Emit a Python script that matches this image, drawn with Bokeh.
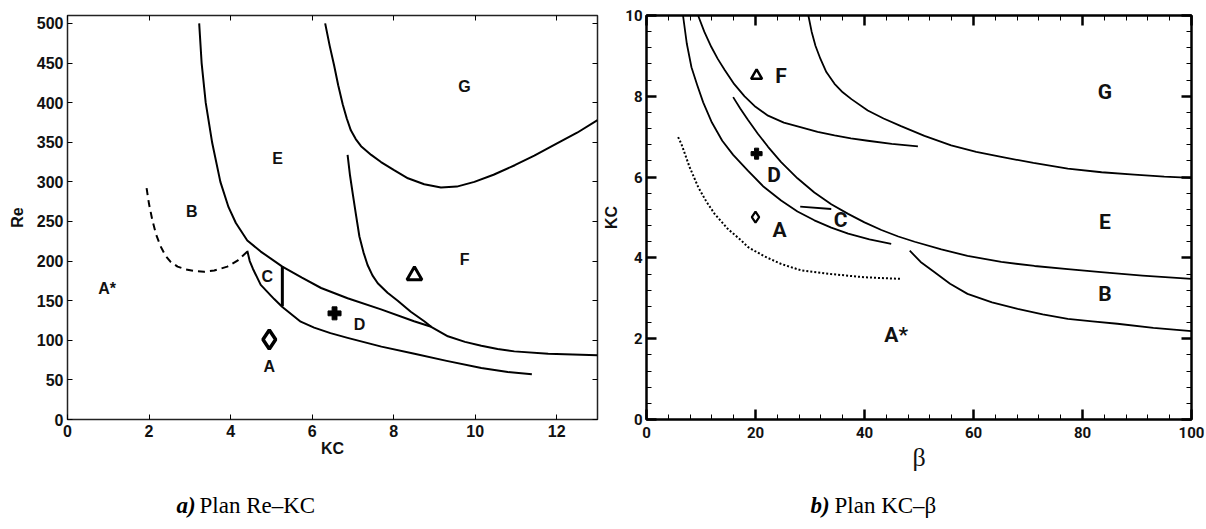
import numpy as np
from bokeh.plotting import figure
from bokeh.layouts import row, column
from bokeh.models import LinearAxis, Label, ColumnDataSource, Range1d, FixedTicker
from bokeh.core.properties import value
from bokeh.embed import file_html
from bokeh.resources import INLINE

# ---------------- Panel a) Re–KC ----------------
kc_ticks = [0, 2, 4, 6, 8, 10, 12]
re_ticks = [0, 50, 100, 150, 200, 250, 300, 350, 400, 450, 500]

# boundary E (upper curve, continuing to lower right)
a_e_kc = [3.23, 3.29, 3.39, 3.55, 3.75, 3.95, 4.13, 4.41, 4.74, 5.27, 5.75, 6.22, 6.87, 7.69, 8.5, 8.92, 9.33, 9.75, 10.15, 10.55, 10.96, 11.79, 13.0]
a_e_re = [500, 450, 400, 349, 300, 268, 248, 226, 212, 193, 179, 166, 153, 139, 124, 117, 105, 98, 93, 89, 86, 83, 81]
# lower boundary of C / D
a_d_kc = [4.41, 4.47, 4.55, 4.74, 5.07, 5.27, 5.72, 6.05, 6.45, 6.87, 7.7, 8.51, 9.3, 10.15, 10.8, 11.39]
a_d_re = [213, 200, 190, 170, 152, 142, 123.5, 116, 109, 103, 92, 83, 74, 65, 60, 57]
# dashed boundary B / A*
a_b_kc = [1.94, 2.0, 2.08, 2.17, 2.28, 2.4, 2.53, 2.7, 2.9, 3.1, 3.35, 3.6, 3.92, 4.18, 4.41]
a_b_re = [292, 272, 252, 234, 219, 207, 199, 193, 189.5, 187.5, 186.5, 188, 193, 201, 212]
# vertical C / D line
a_c_kc = [5.27, 5.27]
a_c_re = [193, 143]
# F boundary
a_f_kc = [6.87, 6.93, 7.0, 7.08, 7.16, 7.26, 7.36, 7.48, 7.61, 7.85, 8.1, 8.42, 8.75, 8.92]
a_f_re = [334, 308, 284, 257, 231, 211, 195, 182, 172, 160, 150, 136, 124, 117]
# G boundary
a_g_kc = [6.32, 6.43, 6.54, 6.64, 6.75, 6.85, 6.95, 7.07, 7.2, 7.45, 7.69, 8.0, 8.35, 8.75, 9.16, 9.55, 9.98, 10.45, 10.97, 11.45, 11.95, 12.5, 13.0]
a_g_re = [500, 472, 447, 422, 398, 380, 365, 354, 345, 334, 325, 315, 304.5, 297, 293, 294, 300, 309, 321, 333, 347, 362, 378]

a_lab_txt = ["G", "E", "B", "A*", "C", "A", "F", "D"]
a_lab_kc = [9.74, 5.15, 3.05, 0.97, 4.9, 4.95, 9.74, 7.16]
a_lab_re = [421, 329, 263, 165, 180, 67, 202, 120]

a_pt_A = (4.95, 101)
a_pt_D = (6.55, 134)
a_pt_F = (8.51, 182)

# ---------------- Panel b) KC–β ----------------
beta_ticks = [0, 20, 40, 60, 80, 100]
kcb_ticks = [0, 2, 4, 6, 8, 10]

b_g_beta = [29.7, 30.3, 31.0, 31.9, 33.0, 34.5, 36.0, 37.6, 40.6, 43.5, 46.7, 51.0, 55.9, 60.5, 65.1, 71.0, 77.3, 83.5, 89.5, 95.0, 100]
b_g_kc = [10, 9.6, 9.25, 8.93, 8.6, 8.31, 8.1, 7.93, 7.65, 7.45, 7.26, 7.02, 6.785, 6.625, 6.5, 6.35, 6.21, 6.12, 6.06, 6.01, 5.98]
b_f_beta = [9.47, 10.6, 11.9, 13.1, 14.35, 16.1, 18.0, 20.0, 22.3, 25.2, 28.4, 31.4, 34.5, 37.5, 40.6, 45.0, 49.8]
b_f_kc = [10, 9.6, 9.22, 8.92, 8.65, 8.3, 8.0, 7.74, 7.52, 7.35, 7.23, 7.12, 7.03, 6.96, 6.9, 6.82, 6.76]
b_ad_beta = [6.7, 7.4, 8.25, 9.3, 10.4, 12.0, 13.9, 15.9, 18.6, 21.5, 24.7, 27.7, 30.8, 33.9, 37.0, 40.9, 44.9]
b_ad_kc = [10, 9.3, 8.72, 8.28, 7.85, 7.35, 6.9, 6.55, 6.16, 5.76, 5.42, 5.15, 4.93, 4.75, 4.6, 4.46, 4.35]
b_de_beta = [15.9, 17.2, 18.6, 20.4, 22.3, 24.7, 27.7, 30.8, 33.9, 37.0, 40.0, 43.1, 46.2, 49.2, 54.1, 58.9, 65.1, 71.2, 77.3, 83.4, 91.0, 100]
b_de_kc = [7.98, 7.7, 7.42, 7.08, 6.75, 6.37, 5.97, 5.62, 5.33, 5.09, 4.88, 4.69, 4.53, 4.4, 4.21, 4.05, 3.9, 3.8, 3.72, 3.65, 3.56, 3.48]
b_b_beta = [48.3, 50.3, 52.8, 55.7, 58.9, 63.4, 68.1, 72.7, 77.3, 81.8, 86.4, 93.0, 100]
b_b_kc = [4.18, 3.9, 3.65, 3.36, 3.11, 2.9, 2.74, 2.6, 2.49, 2.43, 2.37, 2.27, 2.19]
b_c_beta = [28.2, 33.9]
b_c_kc = [5.27, 5.21]
b_dot_beta = [5.8, 6.4, 7.9, 9.5, 11.0, 12.5, 14.9, 17.4, 18.6, 21.6, 24.7, 28.4, 33.9, 40.0, 46.7]
b_dot_kc = [6.99, 6.82, 6.25, 5.75, 5.39, 5.09, 4.72, 4.43, 4.27, 4.04, 3.85, 3.69, 3.6, 3.52, 3.48]

b_lab_txt = ["F", "G", "E", "B", "A*", "D", "A", "C"]
b_lab_beta = [24.7, 84.1, 84.1, 84.1, 45.8, 23.4, 24.4, 35.6]
b_lab_kc = [8.51, 8.1, 4.88, 3.11, 2.08, 6.04, 4.68, 4.93]

b_pt_F = (20.2, 8.51)
b_pt_D = (20.2, 6.58)
b_pt_A = (20.0, 5.01)

captions_bold = ["a)", "b)"]
captions_text = ["Plan Re–KC", "Plan KC–β"]

SANS = "Liberation Sans"
NARROW = "Roboto"
SERIF = "Liberation Serif"
INK = "#111111"


def mirror_axes(p, xt, yt, tick_in, tick_w, minor_x=None, minor_y=None, minor_in=0):
    top = LinearAxis(ticker=FixedTicker(ticks=xt, minor_ticks=minor_x or []))
    right = LinearAxis(ticker=FixedTicker(ticks=yt, minor_ticks=minor_y or []))
    for ax in (top, right):
        ax.major_label_text_font_size = "1px"
        ax.major_label_text_color = None
        ax.major_label_standoff = 0
        ax.axis_line_color = None
        ax.major_tick_in = tick_in
        ax.major_tick_out = 0
        ax.major_tick_line_width = tick_w
        ax.minor_tick_in = minor_in
        ax.minor_tick_out = 0
        if minor_in == 0:
            ax.minor_tick_line_color = None
    p.add_layout(top, "above")
    p.add_layout(right, "right")


# ---- figure a
p1 = figure(width=600, height=480, x_range=Range1d(0, 13), y_range=Range1d(0, 510),
            output_backend="svg", toolbar_location=None,
            min_border_left=67, min_border_right=3, min_border_top=15, min_border_bottom=47,
            x_axis_label="KC", y_axis_label="Re")
p1.grid.visible = False
p1.outline_line_color = "#222222"
p1.outline_line_width = 1.5
p1.xaxis.ticker = FixedTicker(ticks=kc_ticks)
p1.yaxis.ticker = FixedTicker(ticks=re_ticks)
for ax in (p1.xaxis[0], p1.yaxis[0]):
    ax.axis_line_color = None
    ax.major_tick_in = 5
    ax.major_tick_out = 0
    ax.minor_tick_line_color = None
    ax.major_label_text_font = SANS
    ax.major_label_text_font_style = "bold"
    ax.major_label_text_font_size = "16px"
    ax.major_label_text_color = INK
    ax.axis_label_text_font = SANS
    ax.axis_label_text_font_style = "bold"
    ax.axis_label_text_font_size = "16px"
    ax.axis_label_text_color = INK
p1.xaxis.major_label_standoff = 5
p1.xaxis.axis_label_standoff = 0
p1.yaxis.major_label_standoff = 4
p1.yaxis.axis_label_standoff = 8
mirror_axes(p1, kc_ticks, re_ticks, 5, 1)

for xs, ys in [(a_e_kc, a_e_re), (a_d_kc, a_d_re), (a_f_kc, a_f_re), (a_g_kc, a_g_re)]:
    p1.line(xs, ys, line_color="black", line_width=2, line_join="round")
p1.line(a_b_kc, a_b_re, line_color="black", line_width=2, line_dash="7 5")
p1.line(a_c_kc, a_c_re, line_color="black", line_width=3)

p1.scatter([a_pt_A[0]], [a_pt_A[1]], marker="diamond", size=19, line_width=3.5,
           line_color="black", fill_color="white")
p1.scatter([a_pt_D[0]], [a_pt_D[1]], marker="plus", size=13, line_width=1,
           line_color="black", fill_color="black")
p1.scatter([a_pt_F[0]], [a_pt_F[1]], marker="triangle", size=15, line_width=3,
           line_color="black", fill_color="white")

src_a = ColumnDataSource(dict(x=a_lab_kc, y=a_lab_re, t=a_lab_txt))
p1.text(x="x", y="y", text="t", source=src_a, text_align="center", text_baseline="middle",
        text_font=value(SANS), text_font_style="bold", text_font_size="16px", text_color=INK)

# ---- figure b
p2 = figure(width=606, height=480, x_range=Range1d(0, 100), y_range=Range1d(0, 10),
            output_backend="svg", toolbar_location=None,
            min_border_left=45, min_border_right=15, min_border_top=15, min_border_bottom=61,
            x_axis_label="β", y_axis_label="KC")
p2.grid.visible = False
p2.outline_line_color = "black"
p2.outline_line_width = 2.5
minor_b = [float(v) for v in np.arange(0, 101, 4)]
minor_k = [round(float(v), 2) for v in np.arange(0, 10.01, 0.4)]
p2.xaxis.ticker = FixedTicker(ticks=beta_ticks, minor_ticks=minor_b)
p2.yaxis.ticker = FixedTicker(ticks=kcb_ticks, minor_ticks=minor_k)
for ax in (p2.xaxis[0], p2.yaxis[0]):
    ax.axis_line_color = None
    ax.major_tick_in = 10
    ax.major_tick_out = 0
    ax.major_tick_line_width = 2.5
    ax.minor_tick_in = 5
    ax.minor_tick_out = 0
    ax.minor_tick_line_width = 1
    ax.major_label_text_font = NARROW
    ax.major_label_text_font_style = "bold"
    ax.major_label_text_font_size = "15px"
    ax.major_label_text_color = INK
p2.xaxis.major_label_standoff = 7
p2.yaxis.major_label_standoff = 4
p2.xaxis.axis_label_text_font = SERIF
p2.xaxis.axis_label_text_font_style = "normal"
p2.xaxis.axis_label_text_font_size = "26px"
p2.xaxis.axis_label_text_color = INK
p2.xaxis.axis_label_standoff = 2
p2.yaxis.axis_label_text_font = SANS
p2.yaxis.axis_label_text_font_style = "bold"
p2.yaxis.axis_label_text_font_size = "16px"
p2.yaxis.axis_label_text_color = INK
p2.yaxis.axis_label_standoff = 2
mirror_axes(p2, beta_ticks, kcb_ticks, 10, 2.5, minor_b, minor_k, 5)

for bx, by in [(b_g_beta, b_g_kc), (b_f_beta, b_f_kc), (b_ad_beta, b_ad_kc),
               (b_de_beta, b_de_kc), (b_b_beta, b_b_kc), (b_c_beta, b_c_kc)]:
    p2.line(bx, by, line_color="black", line_width=1.8, line_join="round")
p2.line(b_dot_beta, b_dot_kc, line_color="black", line_width=2, line_dash="2 2")

p2.scatter([b_pt_F[0]], [b_pt_F[1]], marker="triangle", size=11, line_width=2.5,
           line_color="black", fill_color="white")
p2.scatter([b_pt_D[0]], [b_pt_D[1]], marker="plus", size=11, line_width=1,
           line_color="black", fill_color="black")
p2.scatter([b_pt_A[0]], [b_pt_A[1]], marker="diamond", size=11, line_width=2.2,
           line_color="black", fill_color="white")

src_b = ColumnDataSource(dict(x=b_lab_beta, y=b_lab_kc, t=b_lab_txt))
p2.text(x="x", y="y", text="t", source=src_b, text_align="center", text_baseline="middle",
        text_font=value(NARROW), text_font_style="bold", text_font_size="21px", text_color=INK)


# ---- caption strips
def caption_fig(w, x_bold, x_text, y, bold, txt):
    c = figure(width=w, height=49, x_range=Range1d(0, w), y_range=Range1d(0, 49),
               output_backend="svg", toolbar_location=None, x_axis_type=None, y_axis_type=None,
               min_border=0)
    c.grid.visible = False
    c.outline_line_color = None
    c.add_layout(Label(x=x_bold, y=y, text=bold, text_font=SERIF, text_font_style="bold italic",
                       text_font_size="23px", text_baseline="middle", text_align="left",
                       text_color="black"))
    c.add_layout(Label(x=x_text, y=y, text=txt, text_font=SERIF, text_font_size="23px",
                       text_baseline="middle", text_align="left", text_color="black"))
    return c


c1 = caption_fig(600, 176, 199, 24, captions_bold[0], captions_text[0])
c2 = caption_fig(606, 210, 234, 24, captions_bold[1], captions_text[1])

layout = column(row(p1, p2), row(c1, c2))
open("out.html", "w").write(file_html(layout, INLINE))
